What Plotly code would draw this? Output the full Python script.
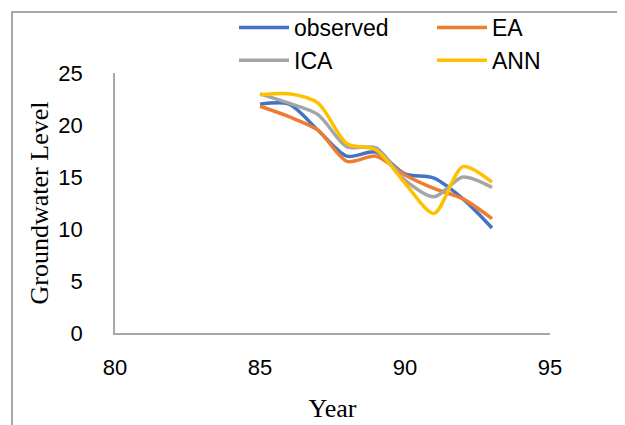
import plotly.graph_objects as go

years = [85, 86, 87, 88, 89, 90, 91, 92, 93]
observed = [22.0, 22.0, 19.5, 17.0, 17.4, 15.3, 14.9, 12.9, 10.1]
ea = [21.8, 20.8, 19.5, 16.5, 17.0, 15.2, 13.9, 12.9, 11.0]
ica = [23.0, 22.1, 21.0, 17.9, 17.8, 14.7, 13.1, 15.0, 14.0]
ann = [22.9, 23.0, 22.1, 18.2, 17.6, 14.4, 11.5, 16.0, 14.5]

series = [
    ("observed", observed, "#4472C4", "legend"),
    ("EA", ea, "#ED7D31", "legend2"),
    ("ICA", ica, "#A5A5A5", "legend"),
    ("ANN", ann, "#FFC000", "legend2"),
]

fig = go.Figure()
for name, vals, color, lg in series:
    fig.add_trace(go.Scatter(
        x=years, y=vals, name=name, mode="lines", legend=lg,
        line=dict(color=color, width=3.5, shape="spline", smoothing=0.8),
    ))

OFF = 8  # default page body margin
W, H = 625 - OFF, 425 - OFF
L, T = 115 - OFF, 73 - OFF
pw, ph = 435, 260
R = W - L - pw
B = H - T - ph

def px2paper_x(px):
    return (px - OFF - L) / pw

def px2paper_y(py):
    return (T + ph - (py - OFF)) / ph

fig.add_shape(type="rect", xref="paper", yref="paper",
              x0=px2paper_x(12), x1=px2paper_x(622),
              y0=px2paper_y(440), y1=px2paper_y(12),
              line=dict(color="#8c8c8c", width=1.5), layer="below")

tickfont = dict(family="Liberation Sans, Arial", size=22, color="#000000")
titlefont = dict(family="Liberation Serif, Times New Roman", size=26, color="#000000")
legfont = dict(family="Liberation Sans, Arial", size=23, color="#000000")

def leg(px):
    return dict(
        orientation="v", x=px2paper_x(px), y=px2paper_y(6),
        xanchor="left", yanchor="top", font=legfont,
        bgcolor="rgba(0,0,0,0)", itemwidth=50, tracegroupgap=0,
    )

fig.update_layout(
    width=W, height=H,
    margin=dict(l=L, r=R, t=T, b=B, autoexpand=False),
    paper_bgcolor="white", plot_bgcolor="white",
    showlegend=True,
    legend=leg(234),
    legend2=leg(432),
    xaxis=dict(
        range=[80, 95], tickvals=[80, 85, 90, 95], ticks="",
        showgrid=False, zeroline=False, showline=True,
        linecolor="#a6a6a6", linewidth=1.5, tickfont=tickfont,
        ticklabelstandoff=14,
        title=dict(text="Year", font=titlefont, standoff=20),
    ),
    yaxis=dict(
        range=[0, 25], tickvals=[0, 5, 10, 15, 20, 25], ticks="",
        showgrid=False, zeroline=False, showline=True,
        linecolor="#a6a6a6", linewidth=1.5, tickfont=tickfont,
        ticklabelstandoff=26,
        title=dict(text="Groundwater Level", font=titlefont, standoff=2),
    ),
)

fig.write_html("out.html")
